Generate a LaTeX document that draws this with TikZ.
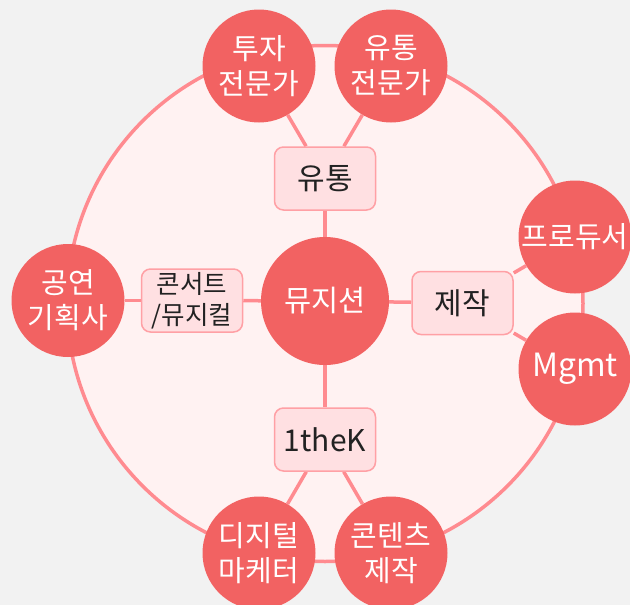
\documentclass[tikz,border=0pt]{standalone}
\usepackage{fontspec}
\setmainfont{Noto Sans CJK KR}
\definecolor{bgc}{HTML}{F2F2F2}
\definecolor{ringfill}{HTML}{FFF2F2}
\definecolor{linec}{HTML}{FF8B90}
\definecolor{bub}{HTML}{F26262}
\definecolor{boxfill}{HTML}{FFE0E2}
\definecolor{boxline}{HTML}{FFA0A5}
\definecolor{dark}{HTML}{222222}
\pgfdeclarelayer{ringl}
\pgfdeclarelayer{edgel}
\pgfsetlayers{ringl,edgel,main}
\tikzset{
  ring/.style={circle, draw=linec, fill=ringfill, line width=3.5pt, minimum size=516pt, inner sep=0pt},
  bubble/.style={circle, fill=bub, text=white, minimum size=113pt, inner sep=0pt, align=center, font=\fontsize{29}{35}\selectfont},
  center/.style={circle, fill=bub, text=white, minimum size=128pt, inner sep=0pt, align=center, font=\fontsize{29.5}{33}\selectfont},
  topic/.style={rectangle, rounded corners=9pt, draw=boxline, fill=boxfill, line width=1.5pt, minimum width=101pt, minimum height=63pt, inner sep=0pt, text=dark, align=center, font=\fontsize{30}{32}\selectfont},
  conn/.style={draw=linec, line width=3.5pt}
}
\begin{document}
\begin{tikzpicture}[x=1pt,y=-1pt]
\begin{pgfonlayer}{ringl}
\fill[bgc] (0,0) rectangle (630,605);
\node[ring] (ring) at (325,303.5) {};
\end{pgfonlayer}
\useasboundingbox (0,0) rectangle (630,605);

\node[center] (music) at (325,301) {뮤지션};

\node[topic] (yu) at (325,178.5) {유통};
\node[topic, font=\fontsize{25.5}{31}\selectfont] (concert) at (192,300.5) {콘서트\\/뮤지컬};
\node[topic] (jejak) at (462.5,303) {제작};
\node[topic] (onek) at (325,439.5) {1theK};

\node[bubble] (tuja) at (259,66) {투자\\전문가};
\node[bubble] (yutongp) at (391,66) {유통\\전문가};
\node[bubble] (gong) at (68,300.5) {공연\\기획사};
\node[bubble] (prod) at (575,237) {프로듀서};
\node[bubble, font=\fontsize{32}{35}\selectfont] (mgmt) at (575,369) {Mgmt};
\node[bubble] (digital) at (259,553) {디지털\\마케터};
\node[bubble] (content) at (391,553) {콘텐츠\\제작};

\begin{pgfonlayer}{edgel}
\draw[conn] (music) -- (yu);
\draw[conn] (music) -- (concert);
\draw[conn] (music) -- (jejak);
\draw[conn] (music) -- (onek);
\draw[conn] (concert) -- (gong);
\draw[conn] (yu) -- (tuja);
\draw[conn] (yu) -- (yutongp);
\draw[conn] (jejak) -- (prod);
\draw[conn] (jejak) -- (mgmt);
\draw[conn] (onek) -- (digital);
\draw[conn] (onek) -- (content);
\end{pgfonlayer}
\end{tikzpicture}
\end{document}
